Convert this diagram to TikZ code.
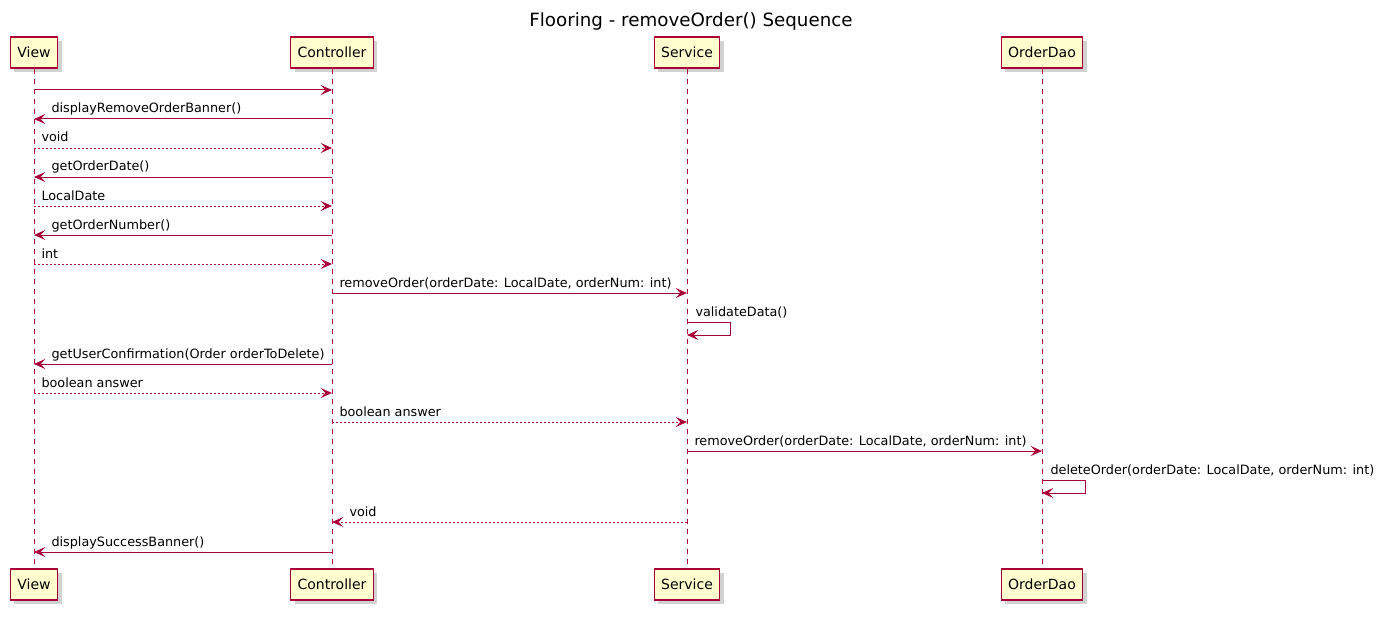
\documentclass[tikz,border=0pt]{standalone}
\usepackage{fontspec}
\setmainfont{DejaVu Sans}
\usetikzlibrary{arrows.meta,shadows,calc}
\definecolor{umlred}{HTML}{A80036}
\definecolor{umlfill}{HTML}{FEFECE}
\newcommand{\msgR}[6][call]{% left to right
  \path (0,#4) coordinate (lvl);
  \draw[#1] (#2 |- lvl) -- node[lbl, pos=0, xshift=5.25pt] (#5) {#6} (#3 |- lvl);}
\newcommand{\msgL}[6][call]{% right to left
  \path (0,#4) coordinate (lvl);
  \draw[#1] (#2 |- lvl) -- node[lbl, pos=1, xshift=12.75pt] (#5) {#6} (#3 |- lvl);}
\newcommand{\msgS}[4]{% self
  \path (0,#2) coordinate (lvl);
  \draw[call] (#1 |- lvl) -- node[lbl, pos=0, xshift=6pt] (#3) {#4} ++(43,0) -- ++(0,13) -- ($(#1 |- lvl)+(0,13)$);}

\begin{document}
\begin{tikzpicture}[x=0.75pt,y=-0.75pt]
    \tikzset{
      part/.style={draw=umlred, fill=umlfill, line width=0.9pt, minimum height=23.25pt,
                   inner xsep=5.25pt, font=\fontsize{10.5}{12}\selectfont,
                   drop shadow={shadow xshift=3pt, shadow yshift=-3pt, opacity=0.25, fill=black!70}},
      life/.style={umlred, line width=0.75pt, dash pattern=on 3.75pt off 3.75pt},
      call/.style={umlred, line width=0.75pt, -{Stealth[length=8.5pt,width=7.5pt,inset=3.5pt]}},
      reply/.style={call, dash pattern=on 1.5pt off 1.5pt},
      lbl/.style={anchor=base west, inner sep=0pt, yshift=4.5pt, text=black,
                  font=\fontsize{9.6}{11}\selectfont}
    }
    \useasboundingbox (0,0) rectangle (1382,617);
    \node[anchor=base, font=\fontsize{13.7}{16}\selectfont] (title) at (691,27) {Flooring - removeOrder() Sequence};

    \node[part] (viewT) at (34,52.5) {View};
    \node[part] (ctrlT) at (332,52.5) {Controller};
    \node[part] (svcT) at (687,52.5) {Service};
    \node[part] (daoT) at (1042,52.5) {OrderDao};
    \node[part] (viewB) at (34,584.5) {View};
    \node[part] (ctrlB) at (332,584.5) {Controller};
    \node[part] (svcB) at (687,584.5) {Service};
    \node[part] (daoB) at (1042,584.5) {OrderDao};

    \draw[life] (viewT) -- (viewB);
    \draw[life] (ctrlT) -- (ctrlB);
    \draw[life] (svcT) -- (svcB);
    \draw[life] (daoT) -- (daoB);

    \msgR{viewT}{ctrlT}{90}{m1}{}
    \msgL{ctrlT}{viewT}{119}{m2}{displayRemoveOrderBanner()}
    \msgR[reply]{viewT}{ctrlT}{148}{m3}{void}
    \msgL{ctrlT}{viewT}{177}{m4}{getOrderDate()}
    \msgR[reply]{viewT}{ctrlT}{206}{m5}{LocalDate}
    \msgL{ctrlT}{viewT}{235}{m6}{getOrderNumber()}
    \msgR[reply]{viewT}{ctrlT}{264}{m7}{int}
    \msgR{ctrlT}{svcT}{293}{m8}{removeOrder(orderDate: LocalDate, orderNum: int)}
    \msgS{svcT}{322}{m9}{validateData()}
    \msgL{ctrlT}{viewT}{364}{m10}{getUserConfirmation(Order orderToDelete)}
    \msgR[reply]{viewT}{ctrlT}{393}{m11}{boolean answer}
    \msgR[reply]{ctrlT}{svcT}{422}{m12}{boolean answer}
    \msgR{svcT}{daoT}{451}{m13}{removeOrder(orderDate: LocalDate, orderNum: int)}
    \msgS{daoT}{480}{m14}{deleteOrder(orderDate: LocalDate, orderNum: int)}
    \msgL[reply]{svcT}{ctrlT}{522}{m15}{void}
    \msgL{ctrlT}{viewT}{552}{m16}{displaySuccessBanner()}
\end{tikzpicture}
\end{document}
